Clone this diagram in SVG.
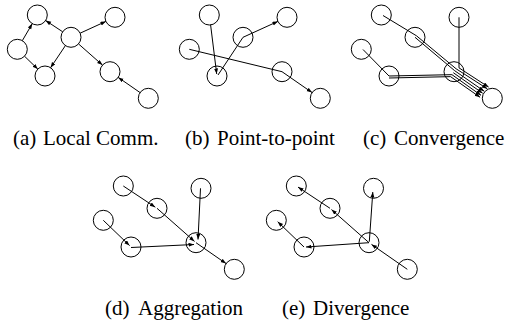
<svg xmlns="http://www.w3.org/2000/svg" width="506" height="322" viewBox="0 0 506 322">
<style>
.n{fill:none;stroke:#000;stroke-width:1}
.e{fill:none;stroke:#000;stroke-width:1;marker-end:url(#ah)}
text{font-family:'Liberation Serif','Times New Roman',Times,'DejaVu Serif',serif;font-size:21px;fill:#000}
</style>
<defs>
<marker id="ah" markerUnits="userSpaceOnUse" markerWidth="6" markerHeight="5" refX="5.5" refY="2" orient="auto">
<path d="M0,0 L5.5,2 L0,4 z" fill="#000"/>
</marker>
</defs>
<rect width="506" height="322" fill="#fff"/>

<!-- (a) -->
<g id="panel-a">
<g id="a1"><circle class="n" cx="37.3" cy="15" r="10"/></g>
<g id="a2"><circle class="n" cx="115" cy="17.3" r="10"/></g>
<g id="a3"><circle class="n" cx="71" cy="37.3" r="10"/></g>
<g id="a4"><circle class="n" cx="17.3" cy="49.3" r="10"/></g>
<g id="a5"><circle class="n" cx="45" cy="76" r="10"/></g>
<g id="a6"><circle class="n" cx="110" cy="71.7" r="10"/></g>
<g id="a7"><circle class="n" cx="148.3" cy="98.3" r="10"/></g>
<g id="edges-a">
<path class="e" d="M22.3,40.7 L32.3,23.6"/>
<path class="e" d="M24.5,56.2 L37.8,69.1"/>
<path class="e" d="M62.7,31.8 L45.6,20.5"/>
<path class="e" d="M80.1,33.2 L105.9,21.4"/>
<path class="e" d="M65.4,45.6 L50.6,67.7"/>
<path class="e" d="M78.5,43.9 L102.5,65.1"/>
<path class="e" d="M140.1,92.6 L118.2,77.4"/>
</g>
</g>

<!-- (b) -->
<g id="panel-b" transform="translate(172,0)">
<g id="b1"><circle class="n" cx="37.3" cy="15" r="10"/></g>
<g id="b2"><circle class="n" cx="115" cy="17.3" r="10"/></g>
<g id="b3"><circle class="n" cx="71" cy="37.3" r="10"/></g>
<g id="b4"><circle class="n" cx="17.3" cy="49.3" r="10"/></g>
<g id="b5"><circle class="n" cx="45" cy="76" r="10"/></g>
<g id="b6"><circle class="n" cx="110" cy="71.7" r="10"/></g>
<g id="b7"><circle class="n" cx="148.3" cy="98.3" r="10"/></g>
<g id="edges-b">
<path class="e" d="M38.6,24.9 L44.7,74"/>
<path class="e" d="M46,75 L71,37.3 L105.9,21.4"/>
<path class="e" d="M17.3,49.3 L110,71.7 L140.1,92.6"/>
</g>
</g>

<!-- (c) -->
<g id="panel-c" transform="translate(344,0)">
<g id="c1"><circle class="n" cx="37.3" cy="15" r="10"/></g>
<g id="c2"><circle class="n" cx="115" cy="17.3" r="10"/></g>
<g id="c3"><circle class="n" cx="71" cy="37.3" r="10"/></g>
<g id="c4"><circle class="n" cx="17.3" cy="49.3" r="10"/></g>
<g id="c5"><circle class="n" cx="45" cy="76" r="10"/></g>
<g id="c6"><circle class="n" cx="110" cy="71.7" r="10"/></g>
<g id="c7"><circle class="n" cx="148.3" cy="98.3" r="10"/></g>
<g id="edges-c">
<path class="e" d="M115,17.3 L115,67.86 L144.6,87.1"/>
<path class="e" d="M39,15.5 L72.5,35.8 L112.06,68.74 L143.3,88.8"/>
<path class="e" d="M71,37.3 L110.69,70.71 L140.2,91.2"/>
<path class="e" d="M109.31,72.69 L138.6,93.2"/>
<path class="e" d="M19,49.5 L45,76 L107.94,74.66 L137,95.3"/>
<path class="e" d="M45,78 L106.57,76.63 L136.1,97.3"/>
</g>
</g>

<!-- (d) -->
<g id="panel-d" transform="translate(86,171)">
<g id="d1"><circle class="n" cx="37.3" cy="15" r="10"/></g>
<g id="d2"><circle class="n" cx="115" cy="17.3" r="10"/></g>
<g id="d3"><circle class="n" cx="71" cy="37.3" r="10"/></g>
<g id="d4"><circle class="n" cx="17.3" cy="49.3" r="10"/></g>
<g id="d5"><circle class="n" cx="45" cy="76" r="10"/></g>
<g id="d6"><circle class="n" cx="110" cy="71.7" r="10"/></g>
<g id="d7"><circle class="n" cx="148.3" cy="98.3" r="10"/></g>
<g id="edges-d">
<path class="e" d="M37.3,15 L69.3,36.2"/>
<path class="e" d="M71,37.3 L108.5,70.4"/>
<path class="e" d="M114.5,17.3 L112,68.5"/>
<path class="e" d="M17.3,49.3 L43.6,74.6"/>
<path class="e" d="M45,76.5 L108,73.5"/>
<path class="e" d="M110,71.7 L140.1,92.6"/>
</g>
</g>

<!-- (e) -->
<g id="panel-e" transform="translate(259,171)">
<g id="e1"><circle class="n" cx="37.3" cy="15" r="10"/></g>
<g id="e2"><circle class="n" cx="114.5" cy="17.3" r="10"/></g>
<g id="e3"><circle class="n" cx="71" cy="37.3" r="10"/></g>
<g id="e4"><circle class="n" cx="17.3" cy="49.3" r="10"/></g>
<g id="e5"><circle class="n" cx="45" cy="76" r="10"/></g>
<g id="e6"><circle class="n" cx="110" cy="71.7" r="10"/></g>
<g id="e7"><circle class="n" cx="148.3" cy="98.3" r="10"/></g>
<g id="edges-e">
<path class="e" d="M148.3,98.3 L112.5,73.4"/>
<path class="e" d="M110,71.7 L72.5,38.6"/>
<path class="e" d="M71,37.3 L39,16.1"/>
<path class="e" d="M110.3,70.7 L113.8,21"/>
<path class="e" d="M110,71.7 L47,76"/>
<path class="e" d="M45,76 L18.7,50.7"/>
</g>
</g>

<!-- captions -->
<g id="captions">
<text x="13" y="145">(a)</text><text x="43" y="145">Local Comm.</text>
<text x="185" y="145">(b)</text><text x="217" y="145">Point-to-point</text>
<text x="363" y="145">(c)</text><text x="394" y="145">Convergence</text>
<text x="105" y="315">(d)</text><text x="138" y="315">Aggregation</text>
<text x="282" y="315">(e)</text><text x="313" y="315">Divergence</text>
</g>
</svg>
